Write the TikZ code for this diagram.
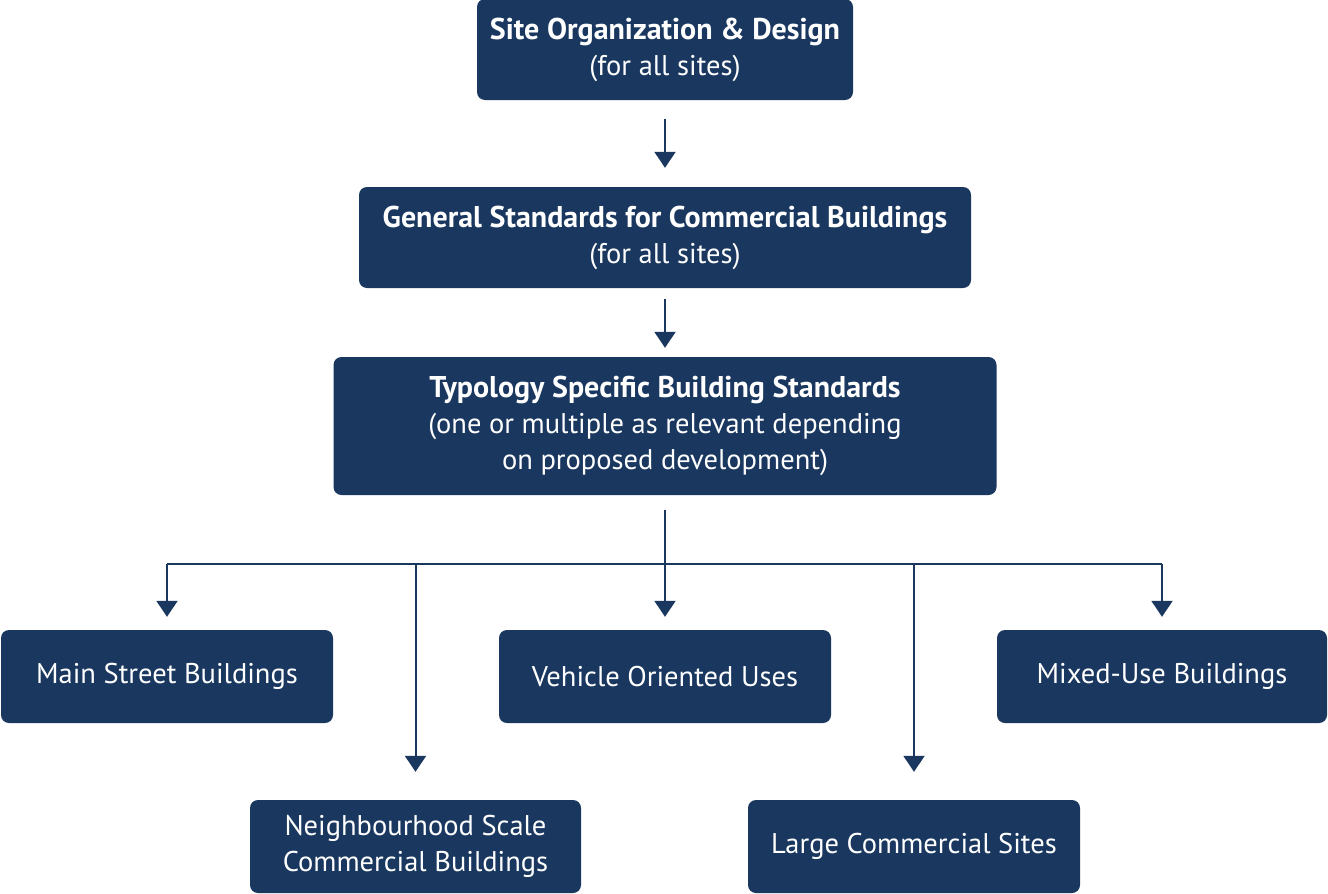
\documentclass[tikz,border=0pt]{standalone}
\usepackage{fontspec}
\setmainfont{PT Sans}
\usetikzlibrary{arrows.meta}
\definecolor{navy}{RGB}{25,55,95}
\newcommand\headline[1]{{\fontsize{30}{36}\selectfont\bfseries #1}}
\tikzset{
  box/.style={fill=navy, rounded corners=8pt, inner sep=0pt, text=white,
    align=center, font=\fontsize{28.5}{36}\selectfont},
  conn/.style={draw=navy, line width=2pt},
  arr/.style={conn, -{Triangle[length=16pt,width=21pt]}},
}
\begin{document}
\begin{tikzpicture}[x=1pt,y=-1pt]
  \clip (0,0) rectangle (1328,894);
  \fill[white] (0,0) rectangle (1328,894);

  % top of the hierarchy
  \node[box, minimum width=376pt, minimum height=101pt] (site) at (665,49.5)
    {\headline{Site Organization \& Design}\\(for all sites)};
  \node[box, minimum width=612pt, minimum height=101pt] (gen) at (665,237.5)
    {\headline{General Standards for Commercial Buildings}\\(for all sites)};
  \node[box, minimum width=663pt, minimum height=138pt] (typ) at (665,426)
    {\headline{Typology Specific Building Standards}\\(one or multiple as relevant depending\\on proposed development)};

  % typologies
  \node[box, minimum width=332pt, minimum height=93pt] (main) at (167,676.5) {Main Street Buildings};
  \node[box, minimum width=332pt, minimum height=93pt] (veh) at (665,676.5) {Vehicle Oriented Uses};
  \node[box, minimum width=330pt, minimum height=93pt] (mix) at (1162,676.5) {Mixed-Use Buildings};
  \node[box, minimum width=331pt, minimum height=93pt] (nbh) at (415.5,846.5) {Neighbourhood Scale\\Commercial Buildings};
  \node[box, minimum width=332pt, minimum height=93pt] (lrg) at (914,846.5) {Large Commercial Sites};

  % connectors
  \draw[arr, shorten <=19pt, shorten >=19pt] (site) -- (gen);
  \draw[arr, shorten <=11pt, shorten >=9pt] (gen) -- (typ);

  \coordinate (bus) at (665,564);
  \draw[conn, shorten <=15pt] (typ) -- (bus);
  \draw[conn] (bus -| main) -- (bus -| mix);
  \draw[arr, shorten >=13pt] (bus -| main) -- (main);
  \draw[arr, shorten >=13pt] (bus) -- (veh);
  \draw[arr, shorten >=13pt] (bus -| mix) -- (mix);
  \draw[arr, shorten >=28pt] (bus -| nbh) -- (nbh);
  \draw[arr, shorten >=28pt] (bus -| lrg) -- (lrg);
\end{tikzpicture}
\end{document}
